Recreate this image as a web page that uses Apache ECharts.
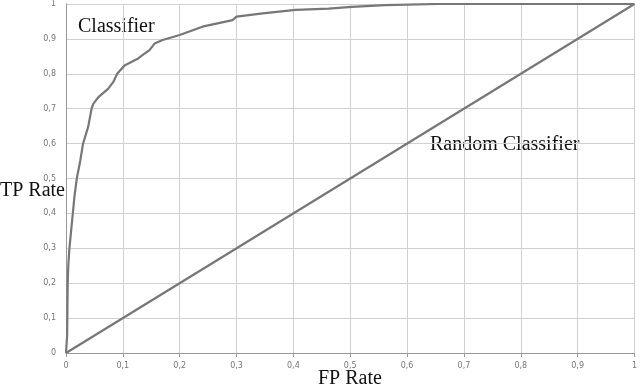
<!DOCTYPE html>
<html>
<head>
<meta charset="utf-8">
<script src="https://cdn.jsdelivr.net/npm/echarts@6/dist/echarts.min.js"></script>
<style>
  html, body { margin: 0; padding: 0; background: #fff; }
  #main { width: 640px; height: 389px; }
</style>
</head>
<body>
<div id="main"></div>
<script>
// ROC curve
var classifierFpr = [0, 0.002, 0.003, 0.004, 0.006, 0.009, 0.012, 0.015, 0.019, 0.025, 0.030, 0.039, 0.045, 0.048, 0.057, 0.074, 0.083, 0.090, 0.103, 0.126, 0.135, 0.147, 0.156, 0.170, 0.200, 0.240, 0.293, 0.300, 0.346, 0.404, 0.462, 0.503, 0.561, 0.655, 1];
var classifierTpr = [0, 0.05, 0.20, 0.25, 0.30, 0.35, 0.40, 0.45, 0.50, 0.55, 0.60, 0.648, 0.70, 0.714, 0.733, 0.757, 0.776, 0.80, 0.824, 0.843, 0.854, 0.868, 0.887, 0.897, 0.911, 0.935, 0.954, 0.964, 0.973, 0.983, 0.987, 0.992, 0.997, 1, 1];
var randomFpr = [0, 1];
var randomTpr = [0, 1];

var classifierData = [];
for (var i = 0; i < classifierFpr.length; i++) {
    classifierData.push([classifierFpr[i], classifierTpr[i]]);
}
var randomData = [];
for (var j = 0; j < randomFpr.length; j++) {
    randomData.push([randomFpr[j], randomTpr[j]]);
}

function commaLabel(v) {
    return String(Math.round(v * 10) / 10).replace('.', ',');
}

var chart = echarts.init(document.getElementById('main'));
var serif = '"Liberation Serif", "DejaVu Serif", serif';

var option = {
    animation: false,
    grid: { left: 66, right: 3, top: 4, bottom: 36, containLabel: false },
    xAxis: {
        type: 'value', min: 0, max: 1, interval: 0.1,
        axisLine: { lineStyle: { color: '#999', width: 1 } },
        axisTick: { show: true, length: 4, lineStyle: { color: '#999' } },
        axisLabel: { formatter: commaLabel, color: '#777', fontSize: 8, margin: 9, fontFamily: 'DejaVu Sans' },
        splitLine: { show: true, lineStyle: { color: '#d0d0d0', width: 1 } }
    },
    yAxis: {
        type: 'value', min: 0, max: 1, interval: 0.1,
        axisLine: { show: true, lineStyle: { color: '#999', width: 1 } },
        axisTick: { show: false },
        axisLabel: { formatter: commaLabel, color: '#777', fontSize: 8, margin: 10, fontFamily: 'DejaVu Sans' },
        splitLine: { show: true, lineStyle: { color: '#d0d0d0', width: 1 } }
    },
    graphic: [
        { type: 'text', left: 0, top: 181, style: { text: 'TP Rate', font: '20px ' + serif, fill: '#111' } },
        { type: 'text', left: 318, top: 369, style: { text: 'FP Rate', font: '20px ' + serif, fill: '#111' } },
        { type: 'text', left: 78, top: 17, style: { text: 'Classifier', font: '20px ' + serif, fill: '#111' } },
        { type: 'text', left: 430, top: 135, style: { text: 'Random Classifier', font: '20px ' + serif, fill: '#111' } }
    ],
    series: [
        {
            name: 'Classifier', type: 'line', data: classifierData,
            showSymbol: false, smooth: false,
            lineStyle: { color: '#777', width: 2.2 }
        },
        {
            name: 'Random Classifier', type: 'line', data: randomData,
            showSymbol: false,
            lineStyle: { color: '#777', width: 2.2 }
        }
    ]
};
chart.setOption(option);
</script>
</body>
</html>
